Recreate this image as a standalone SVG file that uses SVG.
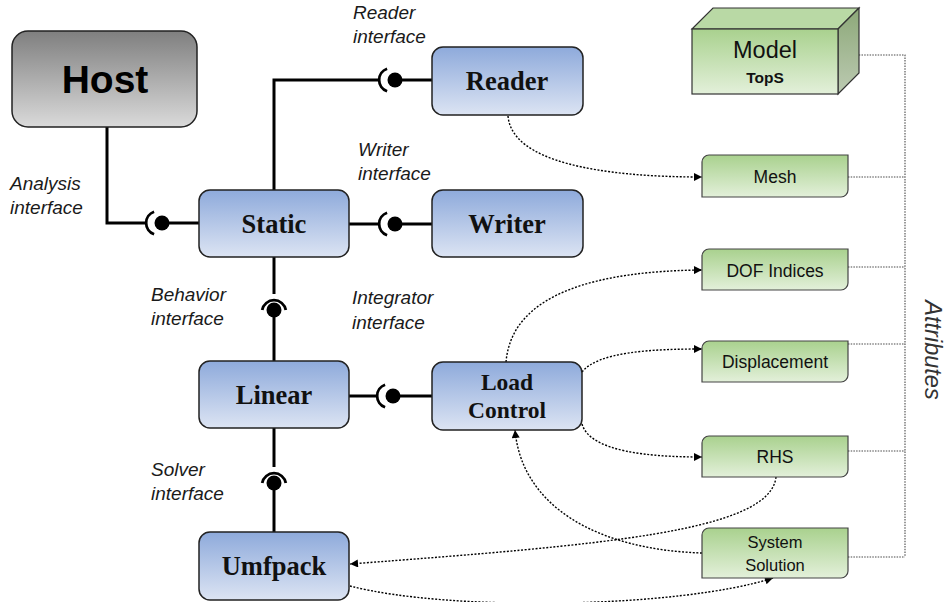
<svg xmlns="http://www.w3.org/2000/svg" width="947" height="602" viewBox="0 0 947 602">
  <defs>
    <linearGradient id="gBlue" x1="0" y1="0" x2="0" y2="1">
      <stop offset="0" stop-color="#8eaadb"/>
      <stop offset="1" stop-color="#dce4f3"/>
    </linearGradient>
    <linearGradient id="gGreen" x1="0" y1="0" x2="0" y2="1">
      <stop offset="0" stop-color="#a9d18e"/>
      <stop offset="1" stop-color="#e3f0da"/>
    </linearGradient>
    <linearGradient id="gGray" x1="0" y1="0" x2="0" y2="1">
      <stop offset="0" stop-color="#7f7f7f"/>
      <stop offset="1" stop-color="#dadada"/>
    </linearGradient>
    <linearGradient id="gSide" x1="0" y1="0" x2="0" y2="1">
      <stop offset="0" stop-color="#8ca878"/>
      <stop offset="1" stop-color="#bccab2"/>
    </linearGradient>
    <marker id="arrow" viewBox="0 0 10 10" refX="10" refY="5" markerWidth="9" markerHeight="8" markerUnits="userSpaceOnUse" orient="auto">
      <path d="M0,0 L10,5 L0,10 z" fill="#000"/>
    </marker>
    <style>
      .blue { fill: url(#gBlue); stroke: #222; stroke-width: 1.5; }
      .green { fill: url(#gGreen); stroke: #444; stroke-width: 1.2; }
      .comp { font-family: "Liberation Serif", "Times New Roman", serif; font-weight: bold; font-size: 26.5px; fill: #111; text-anchor: middle; }
      .comp.small { font-size: 23.5px; }
      .attr { font-family: "Liberation Sans", Arial, sans-serif; font-size: 17.5px; fill: #111; text-anchor: middle; }
      .attr.small { font-size: 16.5px; }
      .lbl { font-family: "Liberation Sans", Arial, sans-serif; font-style: italic; font-size: 19px; fill: #1a1a1a; }
      .side { font-family: "Liberation Sans", Arial, sans-serif; font-style: italic; font-size: 23.5px; fill: #333; text-anchor: middle; }
      .wire { fill: none; stroke: #000; stroke-width: 3; }
      .cup { fill: none; stroke: #000; stroke-width: 2.8; }
      .dep { fill: none; stroke: #000; stroke-width: 1.4; stroke-dasharray: 2 1.6; }
      .link { fill: none; stroke: #4a4a4a; stroke-width: 1.1; stroke-dasharray: 1.5 1.2; }
    </style>
  </defs>

  <!-- solid interface connectors with ball-and-socket joints -->
  <g id="connectors">
    <!-- Host - Static (Analysis interface) -->
    <path class="wire" d="M107,127 V223 H146"/>
    <path class="cup" d="M154.1,211.7 A12,12 0 0 0 154.1,234.3"/>
    <circle cx="162" cy="223" r="7.5"/>
    <path class="wire" d="M162,223 H200"/>

    <!-- Static - Reader -->
    <path class="wire" d="M274,190 V80 H379"/>
    <path class="cup" d="M387.1,68.7 A12,12 0 0 0 387.1,91.3"/>
    <circle cx="395" cy="80" r="7.5"/>
    <path class="wire" d="M395,80 H432"/>

    <!-- Static - Writer -->
    <path class="wire" d="M349,224 H379"/>
    <path class="cup" d="M387.1,212.7 A12,12 0 0 0 387.1,235.3"/>
    <circle cx="395" cy="224" r="7.5"/>
    <path class="wire" d="M395,224 H432"/>

    <!-- Static - Linear (Behavior interface) -->
    <path class="wire" d="M274,256 V294"/>
    <path class="cup" d="M262.2,310 A12,12 0 0 1 285.8,310"/>
    <circle cx="274" cy="310" r="7.5"/>
    <path class="wire" d="M274,310 V361"/>

    <!-- Linear - Umfpack (Solver interface) -->
    <path class="wire" d="M274,428 V467"/>
    <path class="cup" d="M262.2,483 A12,12 0 0 1 285.8,483"/>
    <circle cx="274" cy="483" r="7.5"/>
    <path class="wire" d="M274,483 V532"/>

    <!-- Linear - Load Control (Integrator interface) -->
    <path class="wire" d="M349,396 H377"/>
    <path class="cup" d="M385.1,384.7 A12,12 0 0 0 385.1,407.3"/>
    <circle cx="393" cy="396" r="7.5"/>
    <path class="wire" d="M393,396 H432"/>

    <!-- data dependencies -->
    <path class="dep" marker-end="url(#arrow)" d="M508,116 C512,162 600,177 702,177"/>
    <path class="dep" marker-end="url(#arrow)" d="M506,362 C512,292 600,271 702,270"/>
    <path class="dep" marker-end="url(#arrow)" d="M582,372 C598,352 650,349 702,349"/>
    <path class="dep" marker-end="url(#arrow)" d="M582,424 C590,452 650,457 702,457"/>
    <path class="dep" marker-end="url(#arrow)" d="M702,553 C600,550 522,508 515,430"/>
    <path class="dep" marker-end="url(#arrow)" d="M776,477 C770,532 600,545 350,564"/>
    <path class="dep" marker-end="url(#arrow)" d="M350,586 C450,612 680,608 773,578"/>

    <!-- attribute membership -->
    <path class="link" d="M848,55 H905 V557"/>
    <path class="link" d="M848,177 H905"/>
    <path class="link" d="M848,267 H905"/>
    <path class="link" d="M848,344 H905"/>
    <path class="link" d="M848,451 H905"/>
    <path class="link" d="M848,557 H905"/>
  </g>

  <!-- components -->
  <g id="host">
    <rect x="12" y="31" width="185" height="96" rx="16" fill="url(#gGray)" stroke="#222" stroke-width="1.5"/>
    <text x="105" y="93" font-family="Liberation Sans, Arial, sans-serif" font-weight="bold" font-size="39" text-anchor="middle" fill="#000">Host</text>
  </g>
  <g id="static">
    <rect class="blue" x="199" y="190" width="150" height="67" rx="11"/>
    <text class="comp" x="274" y="233">Static</text>
  </g>
  <g id="reader">
    <rect class="blue" x="432" y="47" width="151" height="68" rx="11"/>
    <text class="comp" x="507" y="90">Reader</text>
  </g>
  <g id="writer">
    <rect class="blue" x="432" y="190" width="151" height="67" rx="11"/>
    <text class="comp" x="507" y="233">Writer</text>
  </g>
  <g id="linear">
    <rect class="blue" x="199" y="361" width="150" height="67" rx="11"/>
    <text class="comp" x="274" y="404">Linear</text>
  </g>
  <g id="umfpack">
    <rect class="blue" x="199" y="532" width="150" height="68" rx="11"/>
    <text class="comp" x="274" y="575">Umfpack</text>
  </g>
  <g id="load-control">
    <rect class="blue" x="432" y="362" width="150" height="68" rx="11"/>
    <text class="comp small" x="507" y="390">Load</text>
    <text class="comp small" x="507" y="418">Control</text>
  </g>

  <!-- model container -->
  <g id="model">
    <polygon points="692,29 713,8 859,8 838,29" fill="#b9d9a5" stroke="#333" stroke-width="1.2"/>
    <polygon points="838,29 859,8 859,73 838,94" fill="url(#gSide)" stroke="#333" stroke-width="1.2"/>
    <rect x="692" y="29" width="146" height="65" fill="url(#gGreen)" stroke="#333" stroke-width="1.2"/>
    <text x="765" y="58" font-family="Liberation Sans, Arial, sans-serif" font-size="23.5" text-anchor="middle" fill="#111">Model</text>
    <text x="765" y="83" font-family="Liberation Sans, Arial, sans-serif" font-weight="bold" font-size="15.5" text-anchor="middle" fill="#111">TopS</text>
  </g>

  <!-- attributes: rounded top-left and bottom-right corners -->
  <g id="mesh">
    <path class="green" d="M709,155 H848 V190 A7,7 0 0 1 841,197 H702 V162 A7,7 0 0 1 709,155 Z"/>
    <text class="attr" x="775" y="183">Mesh</text>
  </g>
  <g id="dof-indices">
    <path class="green" d="M709,249 H848 V283 A7,7 0 0 1 841,290 H702 V256 A7,7 0 0 1 709,249 Z"/>
    <text class="attr" x="775" y="277">DOF Indices</text>
  </g>
  <g id="displacement">
    <path class="green" d="M709,341 H848 V375 A7,7 0 0 1 841,382 H702 V348 A7,7 0 0 1 709,341 Z"/>
    <text class="attr" x="775" y="368">Displacement</text>
  </g>
  <g id="rhs">
    <path class="green" d="M709,436 H848 V470 A7,7 0 0 1 841,477 H702 V443 A7,7 0 0 1 709,436 Z"/>
    <text class="attr" x="775" y="463">RHS</text>
  </g>
  <g id="system-solution">
    <path class="green" d="M709,528 H848 V571 A7,7 0 0 1 841,578 H702 V535 A7,7 0 0 1 709,528 Z"/>
    <text class="attr small" x="775" y="548">System</text>
    <text class="attr small" x="775" y="571">Solution</text>
  </g>

  <!-- interface labels -->
  <g id="labels">
    <text class="lbl" x="353" y="19">Reader</text>
    <text class="lbl" x="353" y="43">interface</text>
    <text class="lbl" x="358" y="156">Writer</text>
    <text class="lbl" x="358" y="180">interface</text>
    <text class="lbl" x="10" y="190">Analysis</text>
    <text class="lbl" x="10" y="214">interface</text>
    <text class="lbl" x="151" y="301">Behavior</text>
    <text class="lbl" x="151" y="325">interface</text>
    <text class="lbl" x="352" y="304">Integrator</text>
    <text class="lbl" x="352" y="329">interface</text>
    <text class="lbl" x="151" y="476">Solver</text>
    <text class="lbl" x="151" y="500">interface</text>
    <text class="side" transform="translate(925,350) rotate(90)">Attributes</text>
  </g>
</svg>
